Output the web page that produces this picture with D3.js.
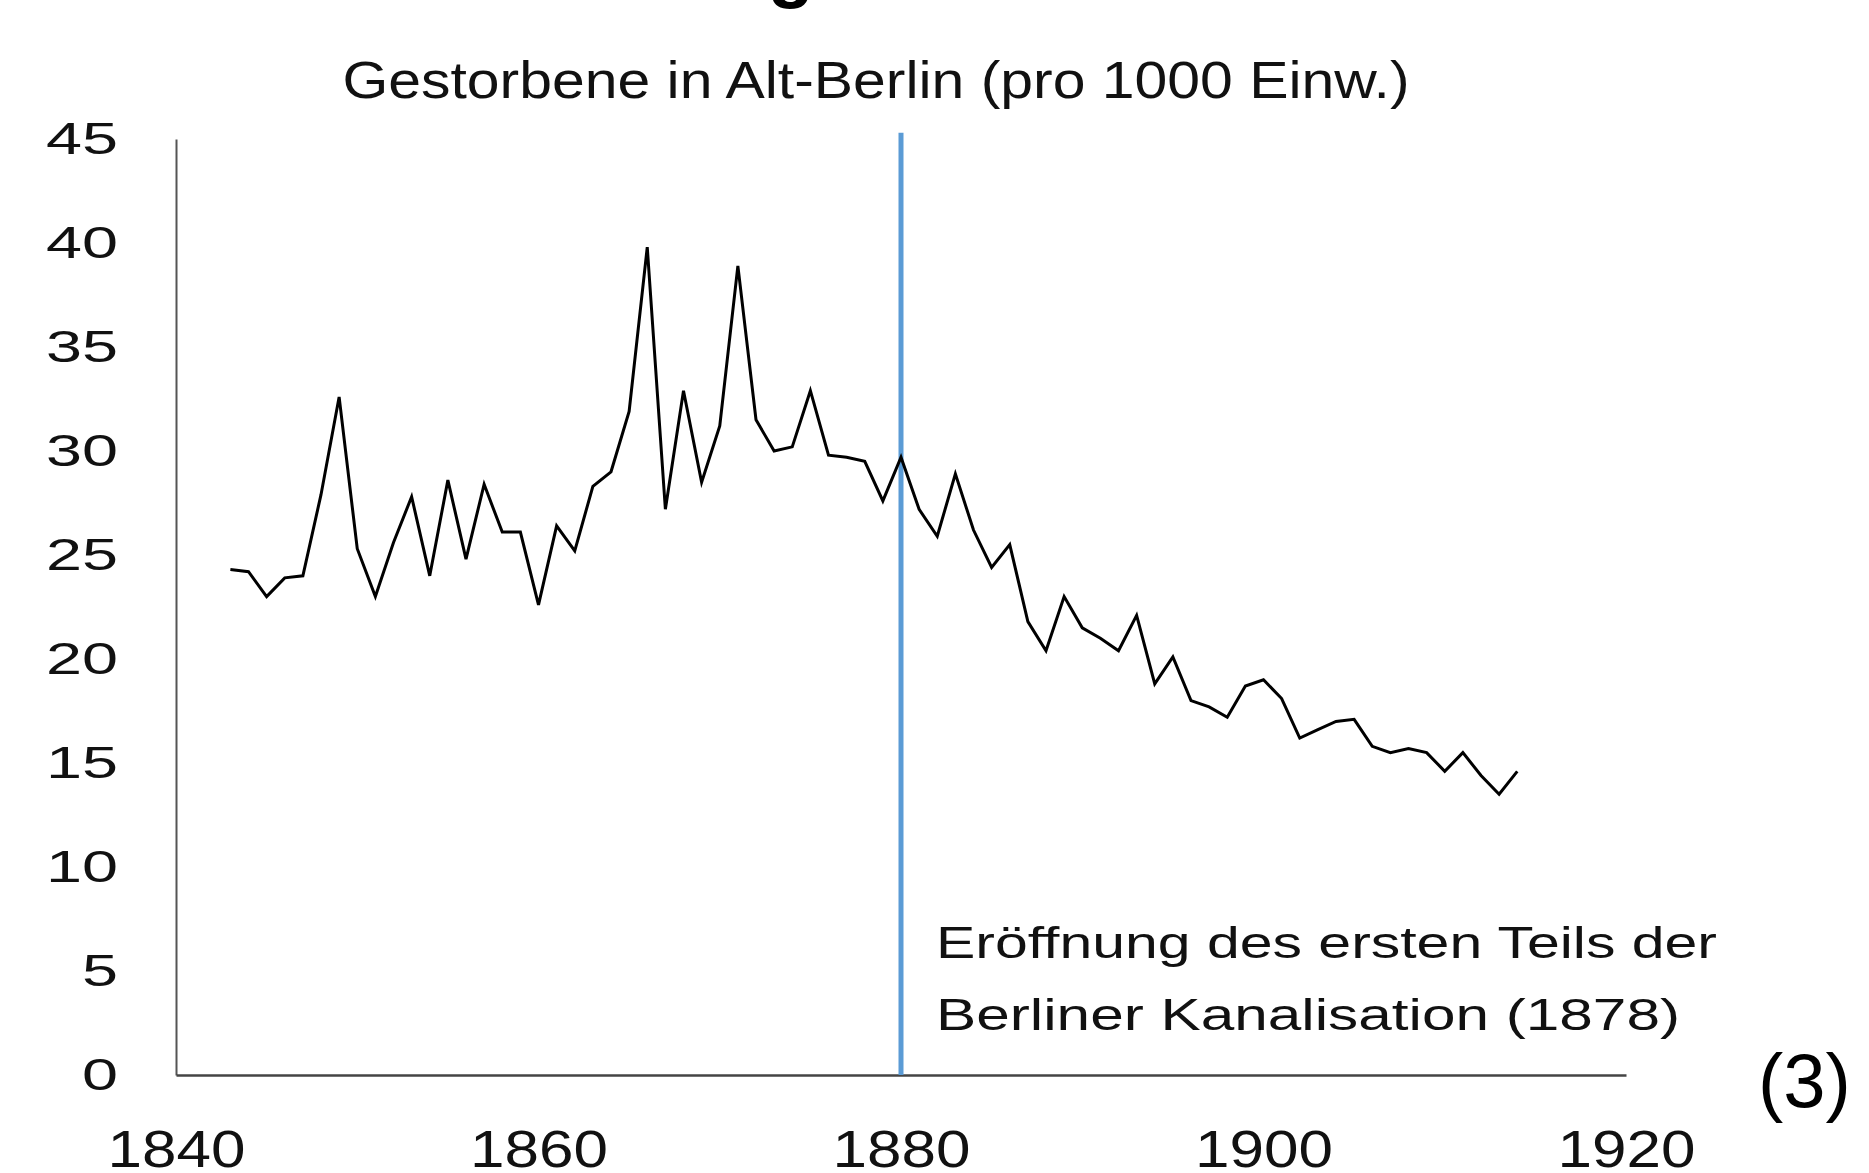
<!DOCTYPE html>
<html>
<head>
<meta charset="utf-8">
<script src="https://cdn.jsdelivr.net/npm/d3@7"></script>
<style>
  body { margin: 0; background: #fff; }
  svg { display: block; }
  .hand { font-family: "Liberation Sans Narrow", "Liberation Sans", sans-serif; fill: #111; }
</style>
</head>
<body>
<svg id="chart" width="1869" height="1173"></svg>
<script>
//Data//
//Years of the series
var years = [1843,1844,1845,1846,1847,1848,1849,1850,1851,1852,1853,1854,1855,1856,1857,1858,1859,1860,
  1861,1862,1863,1864,1865,1866,1867,1868,1869,1870,1871,1872,1873,1874,1875,1876,1877,1878,1879,1880,
  1881,1882,1883,1884,1885,1886,1887,1888,1889,1890,1891,1892,1893,1894,1895,1896,1897,1898,1899,1900,
  1901,1902,1903,1904,1905,1906,1907,1908,1909,1910,1911,1912,1913,1914];
//Deaths per 1000 inhabitants
var deaths = [24.3,24.2,23.0,23.9,24.0,27.9,32.6,25.3,23.0,25.6,27.8,24.0,28.6,24.8,28.4,26.1,26.1,22.6,
  26.4,25.2,28.3,29.0,31.9,39.8,27.2,32.9,28.5,31.2,38.9,31.5,30.0,30.2,32.9,29.8,29.7,29.5,27.6,29.7,
  27.2,25.9,28.9,26.2,24.4,25.5,21.8,20.4,23.0,21.5,21.0,20.4,22.1,18.8,20.1,18.0,17.7,17.2,18.7,19.0,
  18.1,16.2,16.6,17.0,17.1,15.8,15.5,15.7,15.5,14.6,15.5,14.4,13.5,14.6];
//Axis ticks
var yTicks = [0,5,10,15,20,25,30,35,40,45];
var xTicks = [1840,1860,1880,1900,1920];
//Marker for the sewer opening
var markerYear = 1880;
var titleText = "Gestorbene in Alt-Berlin (pro 1000 Einw.)";
var noteLines = ["Eröffnung des ersten Teils der", "Berliner Kanalisation (1878)"];

var svg = d3.select("#chart");

var x = d3.scaleLinear().domain([1840, 1920]).range([176, 1626]);
var y = d3.scaleLinear().domain([0, 45]).range([1075, 139]);

//Cut-off heading above (only the bottom of its "g" shows)
svg.append("text")
  .attr("x", 791).attr("y", -7)
  .attr("text-anchor", "middle")
  .style("font-family", "Liberation Sans, Arial, sans-serif")
  .style("font-size", "76px")
  .style("font-weight", "bold")
  .text("g");

//Title
svg.append("text")
  .attr("class", "hand")
  .attr("x", 876).attr("y", 98)
  .attr("text-anchor", "middle")
  .attr("textLength", 1067)
  .attr("lengthAdjust", "spacingAndGlyphs")
  .style("font-size", "52px")
  .text(titleText);

//Y axis
var yAxis = svg.append("g")
  .attr("transform", "translate(176,0)")
  .call(d3.axisLeft(y).tickValues(yTicks).tickSize(0).tickSizeOuter(0).tickPadding(58));
yAxis.select(".domain").attr("stroke", "#555").attr("stroke-width", 2);
yAxis.selectAll("text")
  .attr("class", "hand")
  .style("font-size", "44px")
  .attr("textLength", function(d) { return String(d).length * 36; })
  .attr("lengthAdjust", "spacingAndGlyphs");

//X axis
var xAxis = svg.append("g")
  .attr("transform", "translate(0,1075)")
  .call(d3.axisBottom(x).tickValues(xTicks).tickSize(0).tickSizeOuter(0).tickFormat(d3.format("d")));
xAxis.select(".domain").attr("stroke", "#444").attr("stroke-width", 2.5);
xAxis.selectAll("text")
  .attr("class", "hand")
  .attr("y", 92).attr("dy", null)
  .style("font-size", "52px")
  .attr("textLength", 138)
  .attr("lengthAdjust", "spacingAndGlyphs");

//Marker line
svg.append("line")
  .attr("x1", x(markerYear)).attr("x2", x(markerYear))
  .attr("y1", y(45.3)).attr("y2", y(0))
  .attr("stroke", "#5b9bd5")
  .attr("stroke-width", 5);

//Series line
var line = d3.line()
  .x(function(d, i) { return x(years[i]); })
  .y(function(d) { return y(d); });
svg.append("path")
  .datum(deaths)
  .attr("d", line)
  .attr("fill", "none")
  .attr("stroke", "#000")
  .attr("stroke-width", 3)
  .attr("stroke-linejoin", "miter");

//Annotation
var noteLengths = [781, 744];
svg.selectAll(".note")
  .data(noteLines)
  .enter()
  .append("text")
  .attr("class", "hand note")
  .attr("x", 936)
  .attr("y", function(d, i) { return 958 + i * 72; })
  .attr("textLength", function(d, i) { return noteLengths[i]; })
  .attr("lengthAdjust", "spacingAndGlyphs")
  .style("font-size", "44px")
  .text(function(d) { return d; });

//Figure number
svg.append("text")
  .attr("x", 1758).attr("y", 1107)
  .style("font-family", "Liberation Sans, Arial, sans-serif")
  .style("font-size", "76px")
  .text("(3)");
</script>
</body>
</html>
